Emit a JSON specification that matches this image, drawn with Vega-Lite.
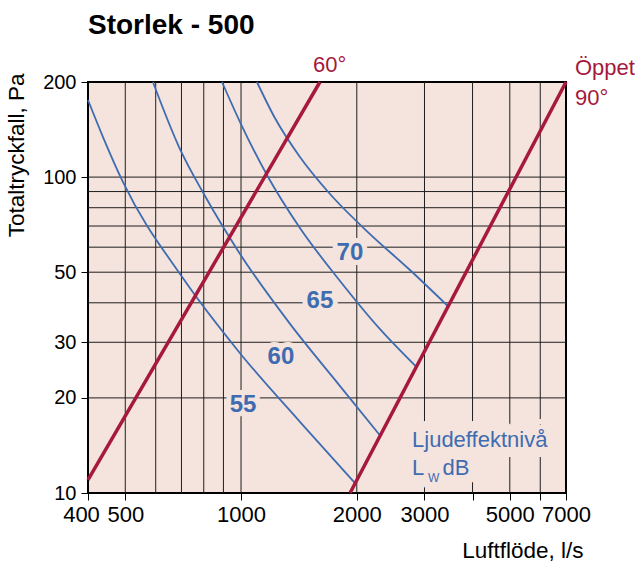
{
  "$schema": "https://vega.github.io/schema/vega-lite/v6.json",
  "width": 478,
  "height": 411,
  "autosize": {"type": "none"},
  "padding": {"left": 88, "top": 82, "right": 74, "bottom": 69},
  "background": "white",
  "config": {
    "view": {"stroke": "black", "strokeWidth": 2, "fill": "#f4e4dd"},
    "font": "Liberation Sans",
    "axisX": {
      "labelFont": "Liberation Sans", "labelFontSize": 22, "labelColor": "black",
      "labelPadding": 4, "labelOverlap": false, "labelFlush": false,
      "tickSize": 7, "tickColor": "black", "tickWidth": 1,
      "domain": false, "grid": false,
      "titleFont": "Liberation Sans", "titleFontSize": 22.5, "titleFontWeight": "normal", "titleColor": "black",
      "titleX": 495, "titleY": 64, "titleAlign": "right", "titleBaseline": "alphabetic"
    },
    "axisY": {
      "labelFont": "Liberation Sans", "labelFontSize": 20, "labelColor": "black",
      "labelPadding": 5, "labelOverlap": false,
      "tickSize": 7, "tickColor": "black", "tickWidth": 1,
      "domain": false, "grid": false,
      "titleFont": "Liberation Sans", "titleFontSize": 22.5, "titleFontWeight": "normal", "titleColor": "black",
      "titleAngle": -90, "titleX": -72, "titleY": -9, "titleAlign": "right", "titleBaseline": "middle"
    }
  },
  "title": {
    "text": "Storlek - 500",
    "anchor": "start",
    "frame": "group",
    "fontSize": 28,
    "fontWeight": "bold",
    "font": "Liberation Sans",
    "color": "black",
    "offset": 14
  },
  "datasets": {
    "gx": [{"flow": 500}, {"flow": 600}, {"flow": 700}, {"flow": 800}, {"flow": 900}, {"flow": 1000}, {"flow": 2000}, {"flow": 3000}, {"flow": 4000}, {"flow": 5000}, {"flow": 6000}],
    "gy": [{"pressure": 20}, {"pressure": 30}, {"pressure": 40}, {"pressure": 50}, {"pressure": 60}, {"pressure": 70}, {"pressure": 80}, {"pressure": 90}, {"pressure": 100}],
    "sound": [
      {"level": "55", "flow": 400, "pressure": 175.4},
      {"level": "55", "flow": 437.6, "pressure": 133.9},
      {"level": "55", "flow": 493, "pressure": 96.5},
      {"level": "55", "flow": 706, "pressure": 47.9},
      {"level": "55", "flow": 994, "pressure": 27.7},
      {"level": "55", "flow": 1423, "pressure": 16.8},
      {"level": "55", "flow": 1979, "pressure": 10.75},
      {"level": "60", "flow": 590, "pressure": 200},
      {"level": "60", "flow": 690, "pressure": 124.5},
      {"level": "60", "flow": 806, "pressure": 87.1},
      {"level": "60", "flow": 994, "pressure": 57.1},
      {"level": "60", "flow": 1341, "pressure": 34.3},
      {"level": "60", "flow": 1809, "pressure": 21.8},
      {"level": "60", "flow": 2299, "pressure": 15.2},
      {"level": "65", "flow": 892.5, "pressure": 200},
      {"level": "65", "flow": 994, "pressure": 149.4},
      {"level": "65", "flow": 1168, "pressure": 101.5},
      {"level": "65", "flow": 1423, "pressure": 69},
      {"level": "65", "flow": 1809, "pressure": 46.9},
      {"level": "65", "flow": 2299, "pressure": 33},
      {"level": "65", "flow": 2855, "pressure": 25.1},
      {"level": "70", "flow": 1100, "pressure": 200},
      {"level": "70", "flow": 1225, "pressure": 153.8},
      {"level": "70", "flow": 1423, "pressure": 115.8},
      {"level": "70", "flow": 1704, "pressure": 88.4},
      {"level": "70", "flow": 2165, "pressure": 66},
      {"level": "70", "flow": 2750, "pressure": 50.8},
      {"level": "70", "flow": 3455, "pressure": 39}
    ],
    "damper": [
      {"angle": "60°", "flow": 400, "pressure": 11},
      {"angle": "60°", "flow": 1604, "pressure": 200},
      {"angle": "90°", "flow": 1921, "pressure": 10},
      {"angle": "90°", "flow": 7000, "pressure": 200}
    ],
    "levelLabels": [
      {"text": "55", "flow": 1012, "pressure": 19.0},
      {"text": "60", "flow": 1270, "pressure": 26.9},
      {"text": "65", "flow": 1604, "pressure": 40.5},
      {"text": "70", "flow": 1920, "pressure": 57.5}
    ],
    "legendMain": [
      {"text": "Ljudeffektnivå", "flow": 2784, "pressure": 13.98},
      {"text": "L", "flow": 2784, "pressure": 11.4},
      {"text": "dB", "flow": 3340, "pressure": 11.4}
    ],
    "legendSub": [
      {"text": "W", "flow": 3064, "pressure": 10.85}
    ],
    "angleLabels": [
      {"text": "60°", "flow": 1539, "pressure": 215.1},
      {"text": "Öppet", "flow": 7387, "pressure": 211},
      {"text": "90°", "flow": 7387, "pressure": 169.1}
    ]
  },
  "layer": [
    {
      "data": {"name": "gx"},
      "mark": {"type": "rule", "color": "#1e1e1e", "strokeWidth": 1},
      "encoding": {
        "x": {"field": "flow", "type": "quantitative", "scale": {"type": "log", "domain": [400, 7000], "nice": false},
          "axis": {"values": [400, 500, 1000, 2000, 3000, 4000, 5000, 6000, 7000], "format": "d",
            "labelExpr": "datum.value == 4000 || datum.value == 6000 ? '' : datum.label",
            "labelOffset": {"condition": {"test": "datum.value == 400", "value": -7}, "value": 0},
            "title": "Luftflöde, l/s"}}
      }
    },
    {
      "data": {"name": "gy"},
      "mark": {"type": "rule", "color": "#1e1e1e", "strokeWidth": 1},
      "encoding": {
        "y": {"field": "pressure", "type": "quantitative", "scale": {"type": "log", "domain": [10, 200], "nice": false},
          "axis": {"values": [10, 20, 30, 50, 100, 200], "format": "d", "title": "Totaltryckfall, Pa"}}
      }
    },
    {
      "data": {"name": "levelLabels"},
      "mark": {"type": "text", "fontSize": 24, "fontWeight": "bold", "align": "center", "baseline": "middle", "fill": "#f4e4dd", "stroke": "#f4e4dd", "strokeWidth": 10, "strokeJoin": "round"},
      "encoding": {
        "x": {"field": "flow", "type": "quantitative", "scale": {"type": "log", "domain": [400, 7000], "nice": false},
          "axis": {"values": [400, 500, 1000, 2000, 3000, 4000, 5000, 6000, 7000], "format": "d",
            "labelExpr": "datum.value == 4000 || datum.value == 6000 ? '' : datum.label",
            "labelOffset": {"condition": {"test": "datum.value == 400", "value": -7}, "value": 0},
            "title": "Luftflöde, l/s"}},
        "y": {"field": "pressure", "type": "quantitative", "scale": {"type": "log", "domain": [10, 200], "nice": false},
          "axis": {"values": [10, 20, 30, 50, 100, 200], "format": "d", "title": "Totaltryckfall, Pa"}},
        "text": {"field": "text"}
      }
    },
    {
      "data": {"name": "legendMain"},
      "mark": {"type": "text", "fontSize": 22, "align": "left", "baseline": "alphabetic", "fill": "#f4e4dd", "stroke": "#f4e4dd", "strokeWidth": 20, "strokeJoin": "round"},
      "encoding": {
        "x": {"field": "flow", "type": "quantitative", "scale": {"type": "log", "domain": [400, 7000], "nice": false},
          "axis": {"values": [400, 500, 1000, 2000, 3000, 4000, 5000, 6000, 7000], "format": "d",
            "labelExpr": "datum.value == 4000 || datum.value == 6000 ? '' : datum.label",
            "labelOffset": {"condition": {"test": "datum.value == 400", "value": -7}, "value": 0},
            "title": "Luftflöde, l/s"}},
        "y": {"field": "pressure", "type": "quantitative", "scale": {"type": "log", "domain": [10, 200], "nice": false},
          "axis": {"values": [10, 20, 30, 50, 100, 200], "format": "d", "title": "Totaltryckfall, Pa"}},
        "text": {"field": "text"}
      }
    },
    {
      "data": {"name": "legendSub"},
      "mark": {"type": "text", "fontSize": 12, "align": "left", "baseline": "alphabetic", "fill": "#f4e4dd", "stroke": "#f4e4dd", "strokeWidth": 16, "strokeJoin": "round"},
      "encoding": {
        "x": {"field": "flow", "type": "quantitative", "scale": {"type": "log", "domain": [400, 7000], "nice": false},
          "axis": {"values": [400, 500, 1000, 2000, 3000, 4000, 5000, 6000, 7000], "format": "d",
            "labelExpr": "datum.value == 4000 || datum.value == 6000 ? '' : datum.label",
            "labelOffset": {"condition": {"test": "datum.value == 400", "value": -7}, "value": 0},
            "title": "Luftflöde, l/s"}},
        "y": {"field": "pressure", "type": "quantitative", "scale": {"type": "log", "domain": [10, 200], "nice": false},
          "axis": {"values": [10, 20, 30, 50, 100, 200], "format": "d", "title": "Totaltryckfall, Pa"}},
        "text": {"field": "text"}
      }
    },
    {
      "data": {"name": "sound"},
      "mark": {"type": "line", "color": "#3f6cb1", "strokeWidth": 1.8, "interpolate": "monotone"},
      "encoding": {
        "x": {"field": "flow", "type": "quantitative", "scale": {"type": "log", "domain": [400, 7000], "nice": false},
          "axis": {"values": [400, 500, 1000, 2000, 3000, 4000, 5000, 6000, 7000], "format": "d",
            "labelExpr": "datum.value == 4000 || datum.value == 6000 ? '' : datum.label",
            "labelOffset": {"condition": {"test": "datum.value == 400", "value": -7}, "value": 0},
            "title": "Luftflöde, l/s"}},
        "y": {"field": "pressure", "type": "quantitative", "scale": {"type": "log", "domain": [10, 200], "nice": false},
          "axis": {"values": [10, 20, 30, 50, 100, 200], "format": "d", "title": "Totaltryckfall, Pa"}},
        "detail": {"field": "level"},
        "order": {"field": "flow", "type": "quantitative"}
      }
    },
    {
      "data": {"name": "damper"},
      "mark": {"type": "line", "color": "#a6183c", "strokeWidth": 3.5},
      "encoding": {
        "x": {"field": "flow", "type": "quantitative", "scale": {"type": "log", "domain": [400, 7000], "nice": false},
          "axis": {"values": [400, 500, 1000, 2000, 3000, 4000, 5000, 6000, 7000], "format": "d",
            "labelExpr": "datum.value == 4000 || datum.value == 6000 ? '' : datum.label",
            "labelOffset": {"condition": {"test": "datum.value == 400", "value": -7}, "value": 0},
            "title": "Luftflöde, l/s"}},
        "y": {"field": "pressure", "type": "quantitative", "scale": {"type": "log", "domain": [10, 200], "nice": false},
          "axis": {"values": [10, 20, 30, 50, 100, 200], "format": "d", "title": "Totaltryckfall, Pa"}},
        "detail": {"field": "angle"}
      }
    },
    {
      "data": {"name": "levelLabels"},
      "mark": {"type": "text", "fontSize": 24, "fontWeight": "bold", "align": "center", "baseline": "middle", "color": "#3f6cb1"},
      "encoding": {
        "x": {"field": "flow", "type": "quantitative", "scale": {"type": "log", "domain": [400, 7000], "nice": false},
          "axis": {"values": [400, 500, 1000, 2000, 3000, 4000, 5000, 6000, 7000], "format": "d",
            "labelExpr": "datum.value == 4000 || datum.value == 6000 ? '' : datum.label",
            "labelOffset": {"condition": {"test": "datum.value == 400", "value": -7}, "value": 0},
            "title": "Luftflöde, l/s"}},
        "y": {"field": "pressure", "type": "quantitative", "scale": {"type": "log", "domain": [10, 200], "nice": false},
          "axis": {"values": [10, 20, 30, 50, 100, 200], "format": "d", "title": "Totaltryckfall, Pa"}},
        "text": {"field": "text"}
      }
    },
    {
      "data": {"name": "legendMain"},
      "mark": {"type": "text", "fontSize": 22, "align": "left", "baseline": "alphabetic", "color": "#3f6cb1"},
      "encoding": {
        "x": {"field": "flow", "type": "quantitative", "scale": {"type": "log", "domain": [400, 7000], "nice": false},
          "axis": {"values": [400, 500, 1000, 2000, 3000, 4000, 5000, 6000, 7000], "format": "d",
            "labelExpr": "datum.value == 4000 || datum.value == 6000 ? '' : datum.label",
            "labelOffset": {"condition": {"test": "datum.value == 400", "value": -7}, "value": 0},
            "title": "Luftflöde, l/s"}},
        "y": {"field": "pressure", "type": "quantitative", "scale": {"type": "log", "domain": [10, 200], "nice": false},
          "axis": {"values": [10, 20, 30, 50, 100, 200], "format": "d", "title": "Totaltryckfall, Pa"}},
        "text": {"field": "text"}
      }
    },
    {
      "data": {"name": "legendSub"},
      "mark": {"type": "text", "fontSize": 12, "align": "left", "baseline": "alphabetic", "color": "#3f6cb1"},
      "encoding": {
        "x": {"field": "flow", "type": "quantitative", "scale": {"type": "log", "domain": [400, 7000], "nice": false},
          "axis": {"values": [400, 500, 1000, 2000, 3000, 4000, 5000, 6000, 7000], "format": "d",
            "labelExpr": "datum.value == 4000 || datum.value == 6000 ? '' : datum.label",
            "labelOffset": {"condition": {"test": "datum.value == 400", "value": -7}, "value": 0},
            "title": "Luftflöde, l/s"}},
        "y": {"field": "pressure", "type": "quantitative", "scale": {"type": "log", "domain": [10, 200], "nice": false},
          "axis": {"values": [10, 20, 30, 50, 100, 200], "format": "d", "title": "Totaltryckfall, Pa"}},
        "text": {"field": "text"}
      }
    },
    {
      "data": {"name": "angleLabels"},
      "mark": {"type": "text", "fontSize": 22, "align": "left", "baseline": "alphabetic", "color": "#a6183c"},
      "encoding": {
        "x": {"field": "flow", "type": "quantitative", "scale": {"type": "log", "domain": [400, 7000], "nice": false},
          "axis": {"values": [400, 500, 1000, 2000, 3000, 4000, 5000, 6000, 7000], "format": "d",
            "labelExpr": "datum.value == 4000 || datum.value == 6000 ? '' : datum.label",
            "labelOffset": {"condition": {"test": "datum.value == 400", "value": -7}, "value": 0},
            "title": "Luftflöde, l/s"}},
        "y": {"field": "pressure", "type": "quantitative", "scale": {"type": "log", "domain": [10, 200], "nice": false},
          "axis": {"values": [10, 20, 30, 50, 100, 200], "format": "d", "title": "Totaltryckfall, Pa"}},
        "text": {"field": "text"}
      }
    }
  ]
}
